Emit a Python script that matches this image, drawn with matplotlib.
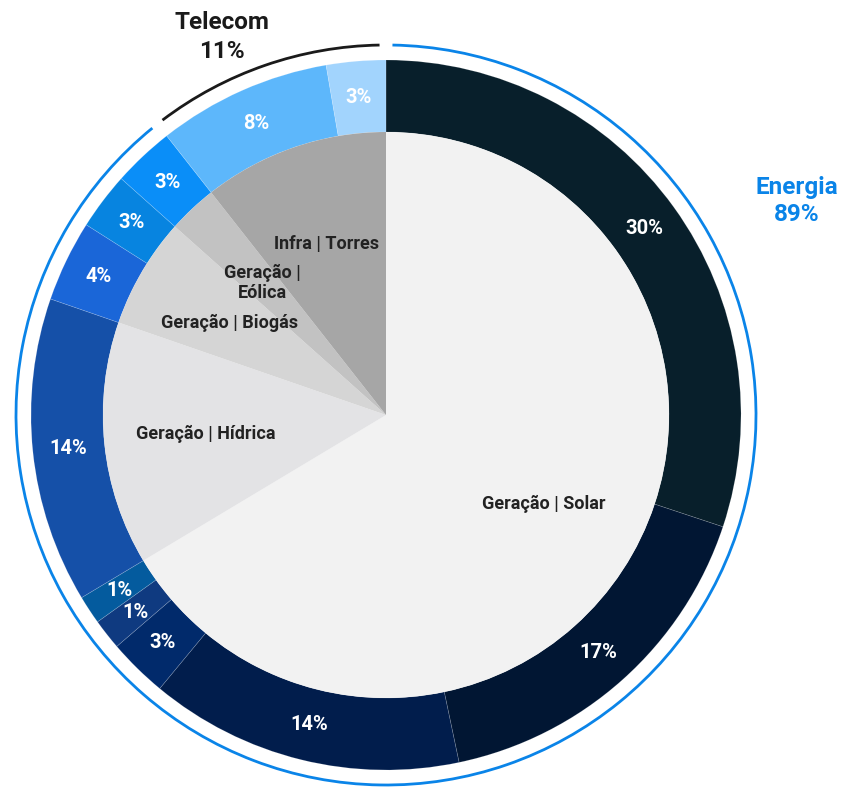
import numpy as np
import matplotlib.pyplot as plt
from matplotlib.patches import Arc

plt.rcParams['font.family'] = ['Roboto', 'DejaVu Sans']

# inner pie: business lines
inner_names = ["Geração | Solar", "Geração | Hídrica", "Geração | Biogás",
               "Geração |\nEólica", "Infra | Torres"]
inner_values = [66.4, 13.9, 6.3, 2.8, 10.6]
inner_colors = ["#f2f2f2", "#e3e3e5", "#d5d5d5", "#c2c2c2", "#a6a6a6"]

# outer ring: assets
outer_values = [30.1, 16.6, 14.3, 2.7, 1.4, 1.3, 13.9, 3.7, 2.6, 2.8, 7.9, 2.7]
outer_colors = ["#081f2b", "#011633", "#011d4c", "#012a6b", "#0f3a80", "#045b9e",
                "#1550a8", "#1a66d8", "#0784e0", "#0a8ef8", "#5db7fb", "#a2d4fd"]

# segments
group_names = ["Energia", "Telecom"]
group_values = [89.4, 10.6]
group_colors = ["#0a84e8", "#1a1a1a"]

fig = plt.figure(figsize=(8.46, 7.9), dpi=100)
ax = fig.add_axes([0, 0, 1, 1])

r_in, r_out, r_arc = 283, 355, 370

ax.pie(outer_values, radius=r_out, colors=outer_colors, startangle=90, counterclock=False,
       labels=[f"{v:.0f}%" for v in outer_values], labeldistance=(r_out - 36) / r_out,
       textprops=dict(color="white", fontsize=14.5, fontweight="bold", ha="center", va="center"),
       wedgeprops=dict(width=r_out - r_in, edgecolor="#ffffff30", linewidth=0.5))

ax.pie(inner_values, radius=r_in, colors=inner_colors, startangle=90, counterclock=False,
       labels=inner_names, labeldistance=0.64,
       textprops=dict(color="#222222", fontsize=13, fontweight="bold", ha="center", va="center",
                      linespacing=1.2),
       wedgeprops=dict(linewidth=0))

# outer arcs for the two segments
start = 90
gap = 1.0
for name, val, col in zip(group_names, group_values, group_colors):
    end = start - val * 3.6
    ax.add_patch(Arc((0, 0), 2 * r_arc, 2 * r_arc, theta1=end + gap, theta2=start - gap,
                     color=col, linewidth=2))
    start = end

ax.text(411, 214, f"{group_names[0]}\n{group_values[0]:.0f}%", color=group_colors[0],
        fontsize=17.5, fontweight="bold", ha="center", va="center", linespacing=1.25)
ax.text(-164, 378, f"{group_names[1]}\n{group_values[1]:.0f}%", color=group_colors[1],
        fontsize=17.5, fontweight="bold", ha="center", va="center", linespacing=1.3)

ax.set_xlim(-386, 460)
ax.set_ylim(-375, 415)
ax.set_aspect('equal')
ax.axis('off')

plt.savefig("out.png", dpi=100)
